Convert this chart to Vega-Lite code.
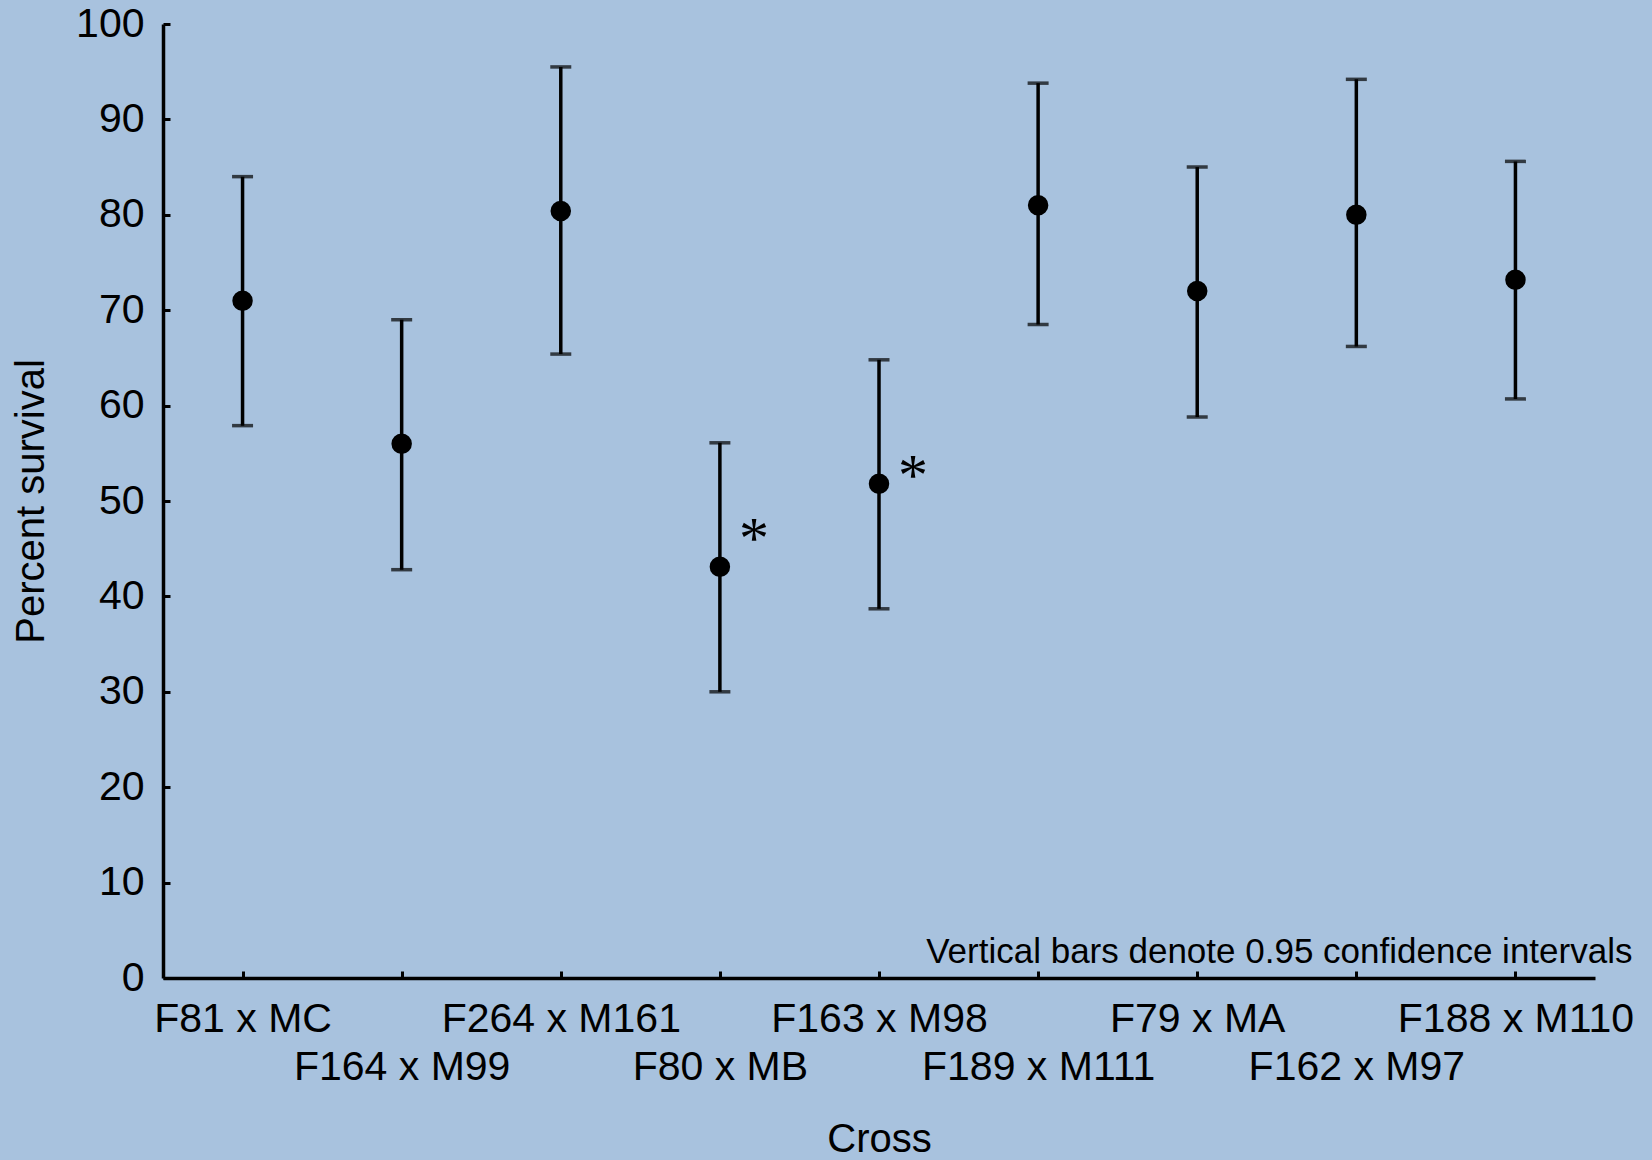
{
  "$schema": "https://vega.github.io/schema/vega-lite/v6.json",
  "autosize": {"type": "none"},
  "padding": {"left": 163, "top": 24, "right": 57, "bottom": 182},
  "width": 1432,
  "height": 954,
  "background": "#a8c2de",
  "config": {
    "view": {"stroke": null},
    "font": "Liberation Sans",
    "axis": {
      "domainColor": "black",
      "domainWidth": 3.5,
      "tickColor": "black",
      "tickWidth": 3,
      "tickSize": -7,
      "labelColor": "black",
      "labelFont": "Liberation Sans",
      "labelFontSize": 41,
      "labelLimit": 0,
      "titleFont": "Liberation Sans",
      "titleFontSize": 40,
      "titleFontWeight": "normal",
      "titleColor": "black",
      "grid": false
    }
  },
  "data": {
    "values": [
      {"cross": "F81 x MC", "mean": 71.0, "lower": 57.9, "upper": 84.0},
      {"cross": "F164 x M99", "mean": 56.0, "lower": 42.8, "upper": 69.0},
      {"cross": "F264 x M161", "mean": 80.4, "lower": 65.4, "upper": 95.5},
      {"cross": "F80 x MB", "mean": 43.1, "lower": 30.0, "upper": 56.1, "sig": "*", "star": 47.4},
      {"cross": "F163 x M98", "mean": 51.8, "lower": 38.7, "upper": 64.8, "sig": "*", "star": 54.0},
      {"cross": "F189 x M111", "mean": 81.0, "lower": 68.5, "upper": 93.8},
      {"cross": "F79 x MA", "mean": 72.0, "lower": 58.8, "upper": 85.0},
      {"cross": "F162 x M97", "mean": 80.0, "lower": 66.2, "upper": 94.2},
      {"cross": "F188 x M110", "mean": 73.2, "lower": 60.7, "upper": 85.6}
    ]
  },
  "encoding": {
    "x": {
      "field": "cross",
      "type": "nominal",
      "sort": null,
      "scale": {"type": "point", "padding": 0.5},
      "axis": {
        "title": "Cross",
        "labelAngle": 0,
        "labelBaseline": "top",
        "labelPadding": 28,
        "labelLineHeight": 48,
        "labelExpr": "indexof(['F164 x M99','F80 x MB','F189 x M111','F162 x M97'], datum.value) >= 0 ? [' ', datum.label] : datum.label",
        "titlePadding": 32
      }
    }
  },
  "layer": [
    {
      "mark": {"type": "rule", "color": "black", "strokeWidth": 3.5},
      "encoding": {
        "y": {
          "field": "lower",
          "type": "quantitative",
          "scale": {"domain": [0, 100], "nice": false},
          "axis": {
            "title": "Percent survival",
            "values": [0, 10, 20, 30, 40, 50, 60, 70, 80, 90, 100],
            "labelPadding": 26,
            "titlePadding": 24
          }
        },
        "y2": {"field": "upper"}
      }
    },
    {
      "mark": {"type": "tick", "color": "black", "size": 21, "thickness": 3.5, "orient": "horizontal"},
      "encoding": {"y": {"field": "upper", "type": "quantitative"}}
    },
    {
      "mark": {"type": "tick", "color": "black", "size": 21, "thickness": 3.5, "orient": "horizontal"},
      "encoding": {"y": {"field": "lower", "type": "quantitative"}}
    },
    {
      "mark": {"type": "point", "shape": "circle", "filled": true, "color": "black", "opacity": 1, "size": 420},
      "encoding": {"y": {"field": "mean", "type": "quantitative"}}
    },
    {
      "mark": {"type": "text", "font": "Liberation Serif", "fontSize": 60, "color": "black", "dx": 34, "baseline": "middle", "dy": 14},
      "encoding": {
        "y": {"field": "star", "type": "quantitative"},
        "text": {"field": "sig"}
      }
    },
    {
      "data": {"values": [{"cross": "F188 x M110", "pos": 1.57, "note": "Vertical bars denote 0.95 confidence intervals"}]},
      "mark": {"type": "text", "font": "Liberation Sans", "fontSize": 35, "color": "black", "align": "right", "baseline": "alphabetic", "dx": 117},
      "encoding": {
        "y": {"field": "pos", "type": "quantitative"},
        "text": {"field": "note"}
      }
    }
  ]
}
